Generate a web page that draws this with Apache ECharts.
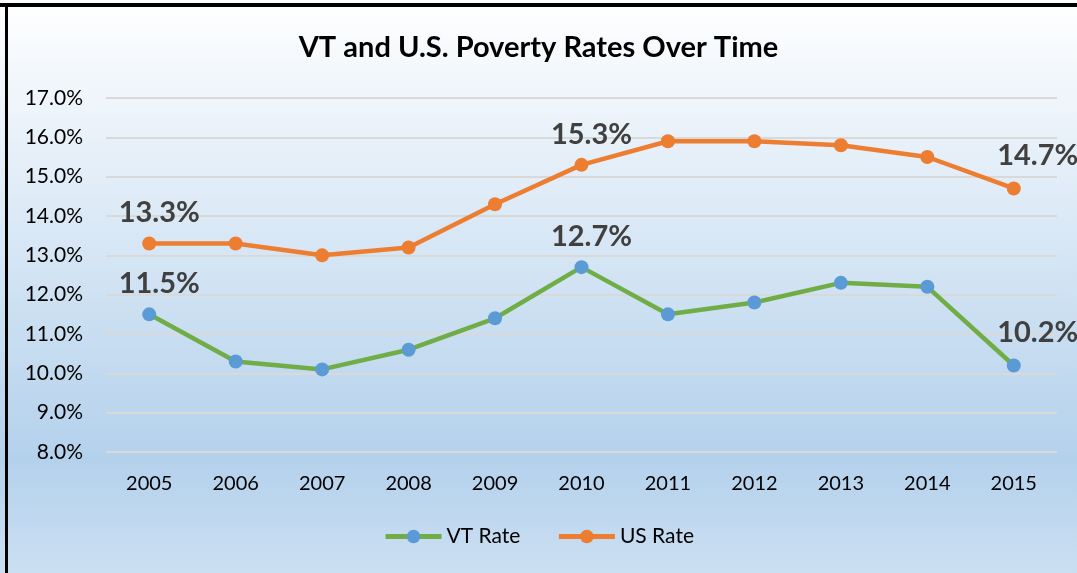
<!DOCTYPE html>
<html>
<head>
<meta charset="utf-8">
<script src="https://cdn.jsdelivr.net/npm/echarts@6/dist/echarts.min.js"></script>
<style>
  html, body { margin: 0; padding: 0; }
  #chart { width: 1077px; height: 573px; }
</style>
</head>
<body>
<div id="chart"></div>
<script>
// poverty rates, percent
const years = ['2005', '2006', '2007', '2008', '2009', '2010', '2011', '2012', '2013', '2014', '2015'];
const vtRate = [11.5, 10.3, 10.1, 10.6, 11.4, 12.7, 11.5, 11.8, 12.3, 12.2, 10.2];
const usRate = [13.3, 13.3, 13.0, 13.2, 14.3, 15.3, 15.9, 15.9, 15.8, 15.5, 14.7];
// which points carry a value label
const labelled = [0, 5, 10];

const FONT = 'Lato';

function withLabels(values) {
  return values.map((v, i) => {
    if (labelled.indexOf(i) < 0) return v;
    const last = i === values.length - 1;
    return {
      value: v,
      label: {
        show: true,
        position: 'top',
        distance: 9,
        offset: last ? [24, -2] : [10, 0],
        formatter: p => p.value.toFixed(1) + '%',
        fontFamily: FONT,
        fontWeight: 'bold',
        fontSize: 29,
        color: '#404040'
      }
    };
  });
}

const chart = echarts.init(document.getElementById('chart'));
chart.setOption({
  animation: false,
  backgroundColor: {
    type: 'linear', x: 0, y: 0, x2: 0, y2: 1,
    colorStops: [
      { offset: 0, color: '#ffffff' },
      { offset: 0.8, color: '#b4d1ec' },
      { offset: 1, color: '#cbdff2' }
    ]
  },
  graphic: [
    { type: 'rect', shape: { x: 0, y: 3, width: 1077, height: 4 }, style: { fill: '#000' } },
    { type: 'rect', shape: { x: 5, y: 3, width: 3, height: 570 }, style: { fill: '#000' } }
  ],
  title: {
    text: 'VT and U.S. Poverty Rates Over Time',
    left: 'center',
    top: 28,
    textStyle: { fontFamily: FONT, fontWeight: 'bold', fontSize: 29, color: '#000' }
  },
  legend: {
    bottom: 21,
    left: 'center',
    itemWidth: 56,
    itemHeight: 17,
    itemGap: 36,
    lineStyle: { width: 5 },
    textStyle: { fontFamily: FONT, fontSize: 21, color: '#000' },
    data: ['VT Rate', 'US Rate']
  },
  grid: { left: 106, right: 20, top: 98, height: 354 },
  xAxis: {
    type: 'category',
    data: years,
    boundaryGap: true,
    axisLine: { show: false },
    axisTick: { show: false },
    axisLabel: { fontFamily: FONT, fontSize: 20, color: '#000', margin: 22 }
  },
  yAxis: {
    type: 'value',
    min: 8,
    max: 17,
    interval: 1,
    axisLabel: {
      fontFamily: FONT, fontSize: 21, color: '#000', margin: 23,
      formatter: v => v.toFixed(1) + '%'
    },
    splitLine: { lineStyle: { color: '#d9d9d9', width: 2 } }
  },
  series: [
    {
      name: 'VT Rate',
      type: 'line',
      data: withLabels(vtRate),
      symbol: 'circle',
      symbolSize: 14,
      lineStyle: { color: '#70ad47', width: 4.5 },
      itemStyle: { color: '#5b9bd5' }
    },
    {
      name: 'US Rate',
      type: 'line',
      data: withLabels(usRate),
      symbol: 'circle',
      symbolSize: 14,
      lineStyle: { color: '#ed7d31', width: 4.5 },
      itemStyle: { color: '#ed7d31' }
    }
  ]
});
</script>
</body>
</html>
